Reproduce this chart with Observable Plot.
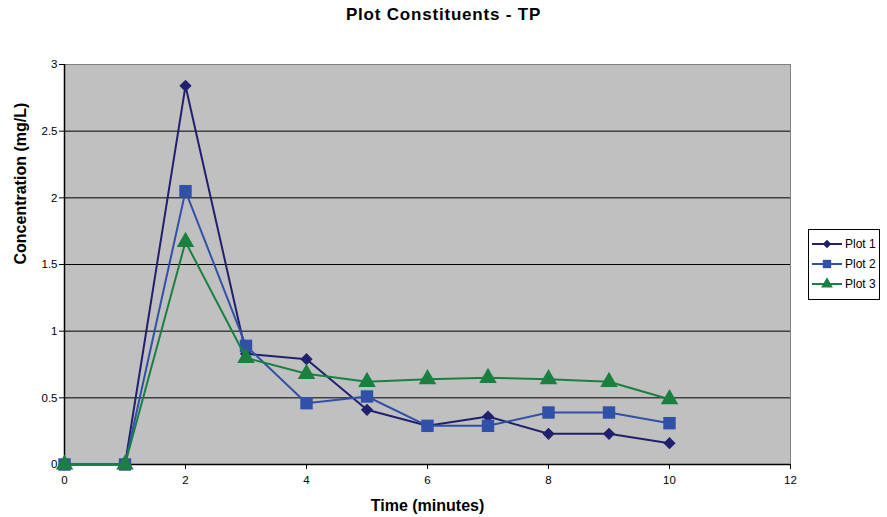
<!DOCTYPE html>
<html><head><meta charset="utf-8">
<script src="https://cdn.jsdelivr.net/npm/d3@7"></script>
<script src="https://cdn.jsdelivr.net/npm/@observablehq/plot@0.6"></script>
<style>
body{margin:0;background:#fff;font-family:"Liberation Sans",Arial,sans-serif;}
#wrap{position:relative;width:887px;height:517px;}
#title{height:40px;line-height:30px;text-align:center;font-weight:bold;font-size:17px;letter-spacing:0.8px;box-sizing:border-box;width:887px;padding-left:0px;}
#legend{position:absolute;left:808px;top:229px;width:72px;height:71px;border:1px solid #000;background:#fff;box-sizing:border-box;padding-top:4px;}
.row{display:flex;align-items:center;height:20px;font-size:12px;white-space:nowrap;}
.row svg{margin-left:2px;margin-right:2px;flex:none;}
</style></head>
<body><div id="wrap"><div id="title">Plot Constituents - TP</div><div id="chart"></div><div id="legend"></div></div>
<script>
const times = [0,1,2,3,4,5,6,7,8,9,10];
const plot1 = [0,0,2.84,0.83,0.79,0.41,0.29,0.36,0.23,0.23,0.16];
const plot2 = [0,0,2.05,0.89,0.46,0.51,0.29,0.29,0.39,0.39,0.31];
const plot3 = [0,0,1.67,0.80,0.68,0.62,0.64,0.65,0.64,0.62,0.49];
const seriesNames = ["Plot 1","Plot 2","Plot 3"];
const seriesColors = ["#20206e","#3150a8","#1a8040"];
const seriesSymbols = ["diamond2","square","triangle"];
const seriesR = [5.5,7,6.5];
const xTicks = [0,2,4,6,8,10,12];
const yTicks = [0,0.5,1,1.5,2,2.5,3];
const xLabel = "Time (minutes)";
const yLabel = "Concentration (mg/L)";

const allSeries = [plot1, plot2, plot3];
const marks = [
  Plot.frame({fill:"#c0c0c0", stroke:"#808080"}),
  Plot.ruleY(yTicks.filter(d=>d>0 && d<3), {stroke:"#000", strokeWidth:1}),
  Plot.ruleY([0], {stroke:"#000", strokeWidth:1.5}),
  Plot.ruleX([0], {stroke:"#000", strokeWidth:1.5}),
  Plot.axisX({ticks:xTicks, tickSize:5, tickPadding:6, tickFormat:d=>String(d), label:null, fontSize:11.5}),
  Plot.axisY({ticks:yTicks, tickSize:5, tickPadding:2, tickFormat:d=>String(d), label:null, fontSize:11.5}),
  Plot.text([yLabel], {frameAnchor:"left", rotate:-90, dx:-44, fontWeight:"bold", fontSize:16, letterSpacing:"0.4px"}),
  Plot.text([xLabel], {frameAnchor:"bottom", dy:46, fontWeight:"bold", fontSize:16, letterSpacing:"0.4px"})
];
allSeries.forEach((vals, i) => {
  const data = times.map((t, j) => ({t, v: vals[j]}));
  marks.push(Plot.line(data, {x:"t", y:"v", stroke:seriesColors[i], strokeWidth:2}));
  marks.push(Plot.dot(data, {x:"t", y:"v", fill:seriesColors[i], symbol:seriesSymbols[i], r:seriesR[i], stroke:null}));
});
const chart = Plot.plot({
  width:887, height:477,
  marginTop:24, marginBottom:53, marginLeft:64, marginRight:97,
  x:{domain:[0,12]},
  y:{domain:[0,3]},
  style:{fontFamily:"'Liberation Sans', Arial, sans-serif", color:"#000", background:"transparent"},
  marks
});
document.getElementById("chart").appendChild(chart);

const leg = document.getElementById("legend");
seriesNames.forEach((name, i) => {
  const row = document.createElement("div");
  row.className = "row";
  const sym = d3.symbol(
    seriesSymbols[i] === "diamond2" ? d3.symbolDiamond2 : seriesSymbols[i] === "square" ? d3.symbolSquare : d3.symbolTriangle,
    seriesSymbols[i] === "diamond2" ? 45 : seriesSymbols[i] === "square" ? 70 : 60
  )();
  row.innerHTML = `<svg width="32" height="14"><line x1="1" x2="31" y1="7" y2="7" stroke="${seriesColors[i]}" stroke-width="2"/><path d="${sym}" transform="translate(16,7)" fill="${seriesColors[i]}"/></svg><span>${name}</span>`;
  leg.appendChild(row);
});
</script></body></html>
